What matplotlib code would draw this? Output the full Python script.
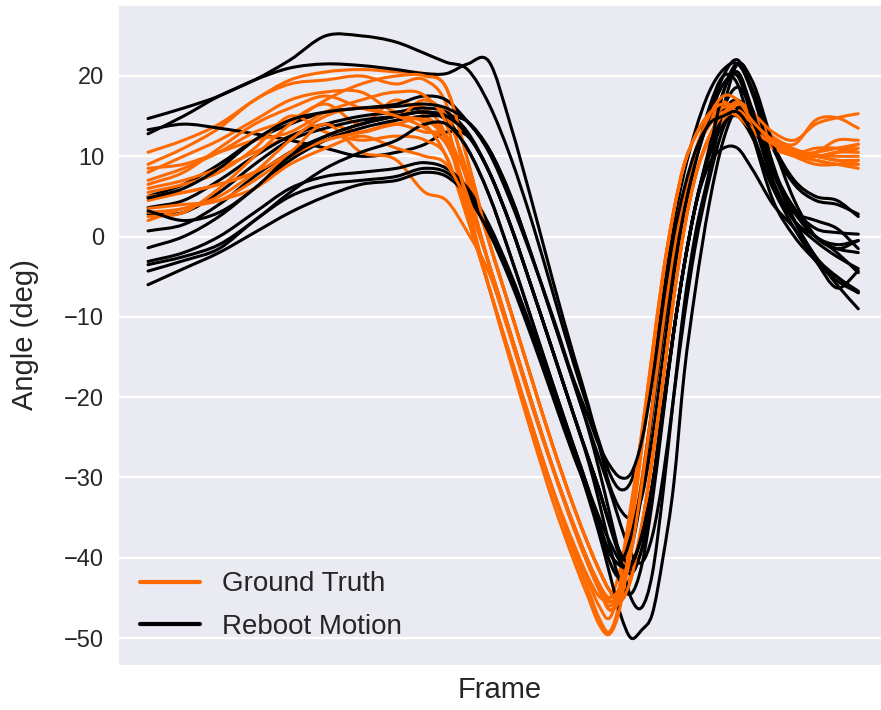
import matplotlib
matplotlib.use("Agg")
import matplotlib.pyplot as plt
from matplotlib.lines import Line2D
from matplotlib.path import Path
from matplotlib.patches import PathPatch
import seaborn as sns

sns.set_style("darkgrid")
plt.rcParams["font.family"] = ["Liberation Sans", "DejaVu Sans"]

# Shared frame axis (denser around the swing so the trough and peak stay round)
frames = [0, 5, 10, 15, 20, 25, 30, 35, 39, 42, 45, 48, 51, 54, 57, 60,
          62, 63.5, 65, 66.5, 68, 69.5, 71, 72.5, 74, 75.5, 77,
          79, 81, 83, 85, 88, 91, 94, 97, 100]

# Ground-truth joint angle traces (deg)
gt_01 = [10.5, 12, 14, 17, 19.5, 20.5, 20.8, 20.5, 20.2, 18.5, 9.5, -0.6, -9.1, -17.7, -26.1, -33.8, -38.4, -41.5, -44.1, -45.4, -42.6, -36.2, -27.7, -17.9, -7.7, 1, 7.3, 12.4, 15.3, 16.5, 15.1, 12.4, 11.5, 14.5, 14.8, 13.5]
gt_02 = [9, 11, 13.5, 17, 19, 19.5, 20, 19, 19.5, 16.5, 6.5, -3.4, -12, -20.6, -28.8, -36.1, -40.5, -43.3, -45.5, -43.9, -38.8, -30.6, -21.2, -11.1, -1.9, 5.2, 10.1, 14.1, 16.1, 15.8, 14.2, 11.9, 10.3, 10.5, 11, 11.5]
gt_03 = [8, 10, 12, 14.5, 17, 18, 18, 15.5, 16, 12.5, 3, -6.3, -14.9, -23.4, -31.8, -39.5, -44, -47.5, -49.2, -45, -36, -26, -15, -5, 3, 9, 12.4, 15, 16, 15, 13, 11, 10, 9.5, 9, 9]
gt_04 = [7, 8.5, 10.5, 13, 14.5, 16.5, 14, 17, 15, 12.5, 5, -3.4, -12, -20.6, -28.8, -36.1, -40.5, -43.8, -46.5, -44.5, -39, -30.6, -21.2, -11.1, -1.9, 5.2, 10.1, 14.1, 16.3, 16, 14, 12, 10.5, 10, 10.5, 11]
gt_05 = [6, 7, 8.5, 10.5, 12.5, 14, 13, 14, 13, 12.5, 7, -0.6, -9.1, -17.7, -26.1, -33.8, -38.4, -41.5, -44.1, -45, -42, -36, -27.7, -17.9, -7.7, 1, 7.3, 12, 14.5, 15, 13.5, 11.5, 10.5, 10, 9.5, 9]
gt_06 = [5.5, 6.5, 8, 11, 15, 13, 12, 12.5, 12, 10, 2.2, -6.3, -14.9, -23.4, -31.5, -38.4, -42.5, -44.8, -45.1, -41.3, -33.4, -24.6, -14.5, -4.7, 3.1, 9, 12.4, 15.3, 16.5, 15.1, 13.3, 11.6, 10.4, 10, 10.5, 10.5]
gt_07 = [5, 5.5, 6.5, 8, 10, 12, 13, 14.5, 17, 15, 8, -0.6, -9.1, -17.7, -26.1, -33.8, -38.4, -41.5, -44.1, -45.4, -42.6, -36.2, -27.7, -17.9, -7.7, 1, 7.3, 12.4, 15.3, 16.5, 15.1, 12.4, 10.9, 10.2, 10, 10]
gt_08 = [4.5, 5.5, 6.5, 8, 10.5, 14, 10.5, 9.5, 5.5, 4.5, 0.5, -4.5, -12.5, -21, -29, -36.5, -41, -44, -46, -44, -38.8, -30.6, -21.2, -11.1, -1.9, 5.2, 10.1, 14.1, 16.1, 15.8, 14.2, 11.9, 10.3, 9.5, 9, 8.5]
gt_09 = [3.5, 4, 4.5, 7, 10, 12, 13, 14, 14.5, 12, 5, -3.4, -12, -20.6, -28.8, -36.1, -40.5, -43.3, -45.5, -43.9, -38.8, -30.6, -21.2, -11.1, -1.9, 5.2, 10.1, 14.1, 16.1, 15.8, 14.2, 11.9, 10.3, 10.5, 12, 12]
gt_10 = [3, 3.5, 5, 8, 12, 15, 16, 15, 14, 9.9, 2.2, -6.3, -14.9, -23.4, -31.5, -38.8, -43, -46, -47.5, -43, -34, -24.6, -14.5, -4.7, 3.1, 9, 12.4, 15.3, 16.8, 15.3, 13.3, 11.6, 10.4, 11, 11, 10.5]
gt_11 = [2.5, 3, 6, 10, 14, 17, 19, 20, 20, 18.5, 9.5, -0.6, -9.1, -17.7, -26.1, -33.8, -38.4, -41.5, -44.1, -45.4, -42.6, -36.2, -27.7, -17.9, -7.7, 1, 7.3, 12.4, 15.3, 16.8, 15.5, 13, 12, 14, 14.8, 15.3]
gt_12 = [2, 3.5, 4.5, 6, 9, 11, 12.5, 11, 10, 9, 4, -3.4, -12, -20.6, -28.8, -36.1, -40.5, -43.3, -45, -43.5, -38.8, -30.6, -21.2, -11.1, -1.9, 5.2, 10.1, 13.8, 15.5, 15, 13.5, 11.5, 10, 9, 9, 9.5]
gt_13 = [8.5, 9, 10.5, 12, 13, 15.5, 17, 18, 17.5, 14, 4, -6.3, -15.5, -24.5, -33, -40.5, -45, -48.3, -49.5, -46, -37, -26.5, -15.5, -5, 3.1, 9, 12.4, 15.3, 16.5, 15.1, 13.3, 11.6, 10.4, 10, 10.5, 11.5]
gt_14 = [6.5, 8, 11, 14, 16, 17.5, 16, 15, 13.5, 11.5, 5, -3.4, -12, -20.6, -28.8, -36.1, -40.5, -43.5, -46.5, -45, -39.5, -31, -21.2, -11.1, -1.9, 5.2, 10.5, 15, 17.5, 17, 14.5, 12, 10.5, 10, 9.5, 9.5]

# Reboot Motion joint angle traces (deg)
rm_01 = [12.8, 15, 17.5, 19.5, 22, 25, 25, 24.2, 22.8, 21.7, 20.8, 16.5, 10, 2, -7, -16, -21.5, -25.5, -29.5, -31.5, -30.5, -25.5, -17, -7.5, 1.5, 8, 13, 18, 20.8, 21.5, 18.5, 11, 6.5, 4.5, 4, 2.8]
rm_02 = [14.7, 16, 17.5, 19.5, 21, 21.5, 21.3, 20.8, 20.3, 20.3, 21.5, 21.8, 14, 4.5, -5.5, -15, -21, -26, -31, -34, -35, -32.5, -25, -15, -5.5, 2.5, 9, 15, 20, 22, 18.5, 11.5, 7, 5, 4.5, 2.5]
rm_03 = [13.3, 14, 13.5, 12.8, 12, 11, 10, 10.5, 11.5, 13, 12.5, 8.1, 1.5, -6.3, -14.3, -22.4, -27.6, -31.5, -35.8, -39.4, -40.6, -37.3, -31, -21.4, -11.9, -3.5, 3.5, 10.5, 15.5, 17, 14.6, 6.7, 1.9, -0.6, -2.5, -4]
rm_04 = [5, 6.5, 9, 12, 14, 15.5, 16, 16.5, 17.5, 17, 14.3, 10.9, 5.2, -2.3, -10.3, -18.4, -23.7, -27.6, -31.5, -35.8, -39.4, -40.6, -37.3, -30, -20, -10, -1.5, 7, 13.5, 16, 14.5, 8, 3, 0, -1, -0.5]
rm_05 = [3.6, 4.5, 7, 10, 12.5, 14, 15, 15.5, 16, 15.5, 13, 8.1, 1.5, -6.3, -14.3, -22.4, -27.6, -31.5, -36, -40, -42, -39, -32, -22, -12, -3.5, 3.5, 10.5, 16, 18.6, 16, 8.5, 3.5, 1, 0.5, 0.3]
rm_06 = [2.8, 3, 5.5, 9, 12, 13.5, 14.5, 15, 15.5, 14.5, 10.9, 5.2, -2.3, -10.3, -18.4, -26.3, -31.5, -36, -40.5, -42.4, -39, -32, -22, -12, -3.5, 3.5, 9.5, 16, 20, 19, 13, 4.5, 0, -3, -5.5, -7]
rm_07 = [0.7, 1.5, 4, 7.5, 10.5, 12.5, 14, 15, 15.5, 15, 12.7, 8.1, 1.5, -6.3, -14.3, -22.4, -28, -33, -38.5, -43, -44.5, -41, -33, -22.5, -12, -3.5, 3.5, 11, 18, 21.5, 18, 9, 2, -2.5, -6, -9]
rm_08 = [-1.4, 0, 2.5, 6, 9.5, 12, 13.5, 14.5, 15, 15, 14.3, 10.9, 5.2, -2.3, -10.3, -18.4, -24, -29, -34.5, -40, -45, -46.2, -42, -32, -20, -8.5, 0, 8, 16, 21.5, 19.5, 11.5, 4.5, 0, -1.5, -2]
rm_09 = [-3.1, -2, 0, 3, 6, 7.5, 8, 8.5, 9.2, 8.5, 6, 1.5, -4.5, -11.5, -19, -27, -32.5, -37, -42, -47, -50, -49, -47, -40, -31, -17, -7, 4, 12, 16, 14.5, 8, 2, -2.5, -5, -6.8]
rm_10 = [-4.3, -3, -1.5, 2, 5, 6.5, 7, 7.5, 8.5, 8, 5.5, 1, -5, -12, -19.5, -27, -31.5, -35, -38, -40.5, -41.5, -39, -32, -22, -12, -3.5, 3.5, 10, 14, 15, 12.5, 6, 1, -3, -6.4, -4.3]
rm_11 = [-6, -4, -2, 0.5, 3, 5, 6.5, 7, 8, 7.5, 5, 0.5, -5.5, -12.5, -20, -27.5, -32, -35.8, -39.4, -41, -41, -37.3, -31, -21.4, -11.9, -3.5, 3.5, 9, 11, 11, 8.5, 4, 1, -3, -5, -7]
rm_12 = [3.2, 2, 3, 6, 10, 12.5, 14, 15, 15.5, 15, 12.7, 8.1, 1.5, -6.3, -14.3, -22.4, -27.6, -31.5, -35.8, -39.4, -40.6, -37.3, -31, -21.4, -11.9, -3.5, 3.5, 10.5, 18, 20.5, 16, 7, 2, 0, -2, -4.5]
rm_13 = [-3.5, -2.5, -1, 2, 5.5, 8.5, 10.5, 12, 14, 14, 10.9, 5.2, -2.3, -10.3, -18.4, -26.3, -31.5, -35.8, -39.4, -40.6, -37.3, -31, -21.4, -11.9, -3.5, 3.5, 9, 14.8, 19, 20, 15, 8, 3.5, 0, -1.5, -0.5]
rm_14 = [4.8, 6, 8.5, 12, 14.5, 15.5, 16, 16.2, 16.5, 16, 14.3, 10.5, 4.5, -2.5, -10, -18, -22.5, -26, -28.5, -30, -29.5, -25.5, -18, -8.5, 0, 6, 10.5, 14, 15, 15.5, 13, 6, 3, 2, 1, -1.5]

ground_truth = [gt_01, gt_02, gt_03, gt_04, gt_05, gt_06, gt_07,
                gt_08, gt_09, gt_10, gt_11, gt_12, gt_13, gt_14]
reboot_motion = [rm_01, rm_02, rm_03, rm_04, rm_05, rm_06, rm_07,
                 rm_08, rm_09, rm_10, rm_11, rm_12, rm_13, rm_14]

series_labels = ["Ground Truth", "Reboot Motion"]
series_colors = ["#ff6a00", "black"]
y_ticks = [20, 10, 0, -10, -20, -30, -40, -50]


def smooth_trace(x, y):
    """Cubic Hermite path through the samples (x stays monotone)."""
    n = len(x)
    slopes = []
    for i in range(n):
        if i == 0:
            slopes.append((y[1] - y[0]) / (x[1] - x[0]))
        elif i == n - 1:
            slopes.append((y[-1] - y[-2]) / (x[-1] - x[-2]))
        else:
            h0, h1 = x[i] - x[i - 1], x[i + 1] - x[i]
            d0, d1 = (y[i] - y[i - 1]) / h0, (y[i + 1] - y[i]) / h1
            slopes.append((d0 * h1 + d1 * h0) / (h0 + h1))
    verts = [(x[0], y[0])]
    codes = [Path.MOVETO]
    for i in range(n - 1):
        h = x[i + 1] - x[i]
        verts += [(x[i] + h / 3, y[i] + slopes[i] * h / 3),
                  (x[i + 1] - h / 3, y[i + 1] - slopes[i + 1] * h / 3),
                  (x[i + 1], y[i + 1])]
        codes += [Path.CURVE4] * 3
    return Path(verts, codes)


W, H = 881, 710
fig = plt.figure(figsize=(W / 100, H / 100), dpi=100)
ax = fig.add_axes([118 / W, 45 / H, 763 / W, 660 / H])

lw = 2.2
for gt, rm in zip(ground_truth, reboot_motion):
    for ys, color in ((gt, series_colors[0]), (rm, series_colors[1])):
        ax.add_patch(PathPatch(smooth_trace(frames, ys), fill=False,
                               edgecolor=color, lw=lw,
                               capstyle="round", joinstyle="round"))

ax.set_xlim(-4.23, 103.2)
ax.set_ylim(-53.36, 28.84)
ax.set_xticks([])
ax.set_yticks(y_ticks)
ax.tick_params(axis="y", labelsize=17, pad=10, colors="0.15", length=0)
ax.grid(axis="x", visible=False)
ax.grid(axis="y", color="white", lw=1.6)
ax.set_xlabel("Frame", fontsize=21, color="0.15", labelpad=8)
ax.set_ylabel("Angle (deg)", fontsize=21, color="0.15", labelpad=18)

handles = [Line2D([], [], color=c, lw=3) for c in series_colors]
ax.legend(handles, series_labels, loc="lower left", frameon=False,
          bbox_to_anchor=(-0.004, 0.0),
          fontsize=20, handlelength=2.15, handletextpad=0.8,
          labelspacing=0.6, borderaxespad=0.5)

fig.savefig("out.png", dpi=100)
